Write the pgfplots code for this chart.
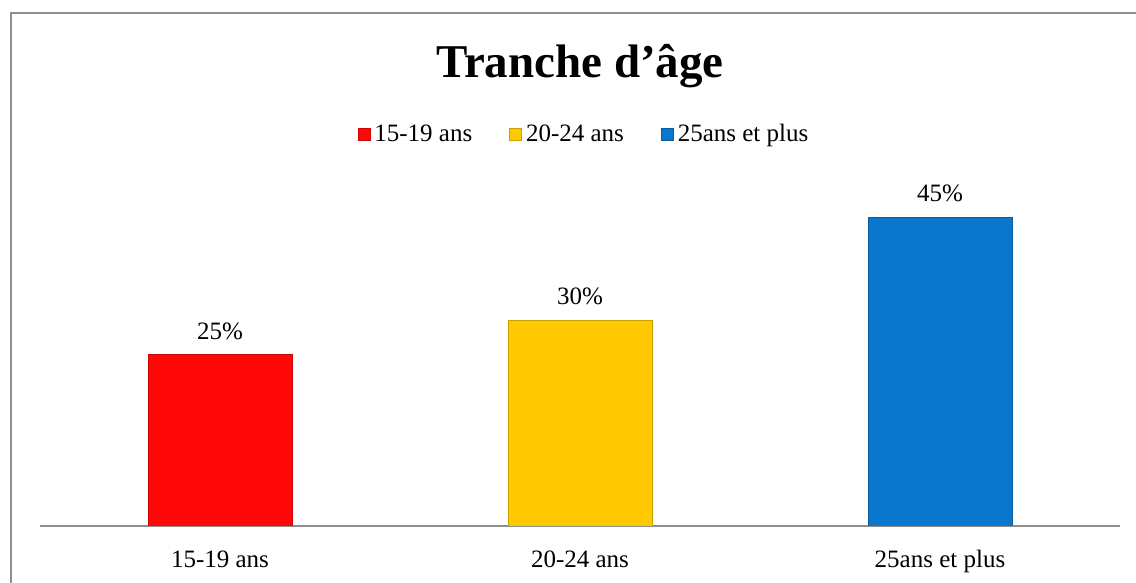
\documentclass[border=0pt]{standalone}
\usepackage{fontspec}
\setmainfont{Liberation Serif}
\usepackage{pgfplots}
\pgfplotsset{compat=1.18}
\definecolor{cred}{HTML}{FF0808}
\definecolor{cyel}{HTML}{FFC800}
\definecolor{cblue}{HTML}{0A76CC}
\definecolor{frame}{HTML}{8E8E8E}
\begin{document}
\begin{tikzpicture}
\useasboundingbox (0,0) rectangle (568bp,291.5bp);
\draw[frame, line width=0.9bp] (5.3bp,-20bp) -- (5.3bp,284.8bp) -- (600bp,284.8bp);
\node[anchor=base, font=\fontsize{23.5bp}{28bp}\selectfont\bfseries] at (290bp,252.5bp) {Tranche d’âge};
\begin{axis}[
  at={(20bp,28.5bp)}, anchor=south west,
  width=540bp, height=171.75bp, scale only axis,
  /pgf/number format/assume math mode=true,
  xmin=-0.5, xmax=2.5, ymin=0, ymax=50,
  axis x line=bottom, axis y line=none,
  axis line style={-, draw=frame, line width=0.75bp},
  xtick={0,1,2}, xticklabels={15-19 ans,20-24 ans,25ans et plus},
  major tick length=0pt,
  xticklabel style={font=\fontsize{12.5bp}{15bp}\selectfont, anchor=base, yshift=-20.5bp},
  ytick=\empty,
  ybar, bar width=72bp, bar shift=0pt,
  nodes near coords={\pgfmathprintnumber{\pgfplotspointmeta}\%},
  nodes near coords style={font=\fontsize{12.5bp}{15bp}\selectfont, anchor=base, yshift=7.5bp},
  legend columns=3,
  legend style={draw=none, fill=none, at={(0.5046,1.14)}, anchor=center,
    font=\fontsize{12.5bp}{15bp}\selectfont,
    /tikz/every even column/.append style={column sep=16.5bp}},
  legend image code/.code={\fill[#1] (-1bp,-3bp) rectangle (5bp,3bp); \draw[#1, draw opacity=1, line width=0.4bp] (-1bp,-3bp) rectangle (5bp,3bp);},
]
\addplot[fill=cred, draw=cred!80!black, line width=0.3bp] coordinates {(0,25)};
\addplot[fill=cyel, draw=cyel!80!black, line width=0.3bp] coordinates {(1,30)};
\addplot[fill=cblue, draw=cblue!80!black, line width=0.3bp] coordinates {(2,45)};
\legend{15-19 ans,20-24 ans,25ans et plus}
\end{axis}
\end{tikzpicture}
\end{document}
